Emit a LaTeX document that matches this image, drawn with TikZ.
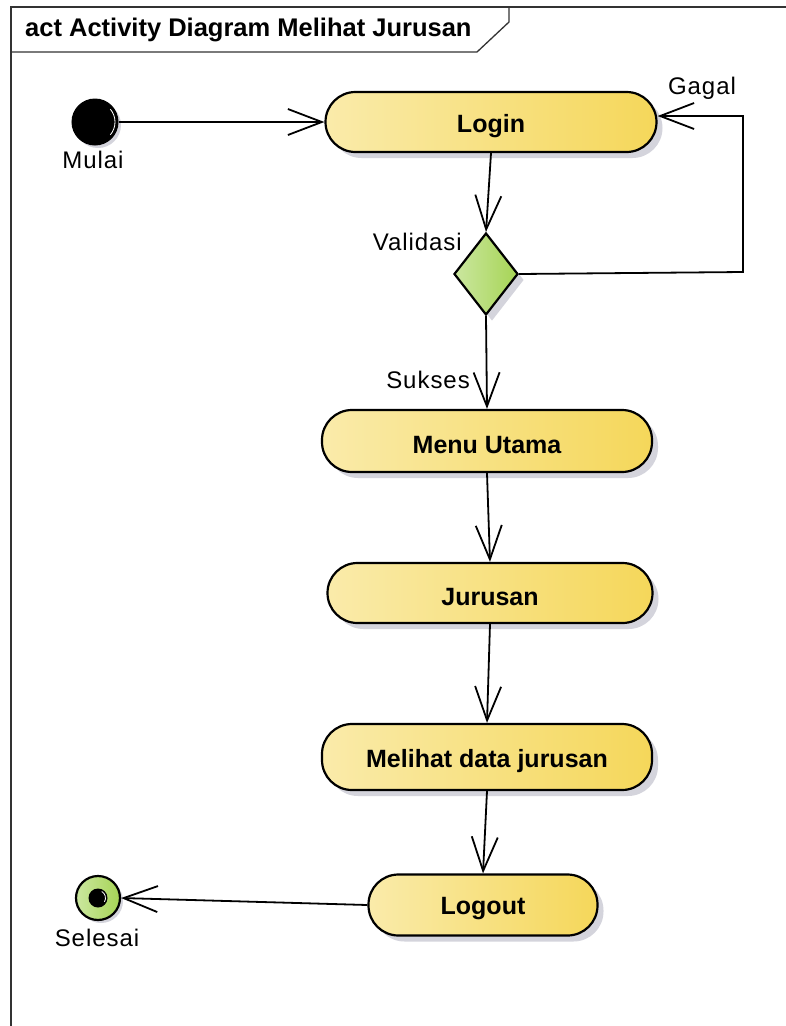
\documentclass[tikz,border=0pt]{standalone}
\usepackage{fontspec}
\setmainfont{Liberation Sans}
\usetikzlibrary{arrows.meta,shapes.geometric,shadows}
\definecolor{actL}{HTML}{FAEBAA}
\definecolor{actR}{HTML}{F5D75A}
\definecolor{decL}{HTML}{CBE7A0}
\definecolor{decR}{HTML}{A6D455}
\definecolor{shade}{HTML}{D4D4DC}
\newfontfamily\labelfont[LetterSpace=4]{Liberation Sans}
% activity names sit a little below the middle of their box
\newcommand{\acttext}[1]{\raisebox{-4pt}[\height][\depth]{#1}}
\tikzset{
  activity/.style={rectangle, draw=black, line width=2.2pt, rounded corners=30pt,
    left color=actL, right color=actR,
    general shadow={fill=shade, shadow xshift=6pt, shadow yshift=-6pt},
    font=\fontsize{25}{29}\selectfont\bfseries, inner sep=0pt},
  decision/.style={diamond, draw=black, line width=2.2pt, inner sep=0pt,
    left color=decL, right color=decR, minimum width=64pt, minimum height=82pt,
    general shadow={fill=shade, shadow xshift=6pt, shadow yshift=-6pt}},
  flow/.style={line width=1.8pt, -{Straight Barb[length=34pt,width=26pt,line width=1.8pt]}},
  lbl/.style={font=\labelfont\fontsize{24}{28}\selectfont, inner sep=0pt},
  frameline/.style={line width=1.3pt, draw=black!80}
}
\begin{document}
\begin{tikzpicture}[x=1pt,y=-1pt]
\useasboundingbox (0,0) rectangle (786,1026);
\fill[white] (0,0) rectangle (786,1026);

% diagram frame and its name tab
\draw[frameline] (11,1030) -- (11,7) -- (790,7);
\draw[frameline] (11,52) -- (477,52) -- (509,22) -- (509,7);
\node[anchor=west, inner sep=0pt, font=\fontsize{25.5}{29}\selectfont\bfseries] (title) at (25,30)
  {act Activity Diagram Melihat Jurusan};

% start and end
\node[circle, fill=black, draw=black, line width=1pt, minimum size=46pt, inner sep=0pt,
  general shadow={fill=shade, shadow xshift=3pt, shadow yshift=-3pt}] (start) at (95,122) {};
\draw[white, line width=0.8pt] (start.center) ++(-40:20pt) arc (-40:40:20pt);
\node[lbl] (mulai) at (93,160) {Mulai};

\node[circle, draw=black, line width=2.2pt, left color=decL, right color=decR,
  minimum size=44pt, inner sep=0pt,
  general shadow={fill=shade, shadow xshift=3pt, shadow yshift=-3pt}] (final) at (98,898) {};
\fill[black] (final.center) circle (9.5pt);
\draw[white, line width=0.8pt] (final.center) ++(-30:7.5pt) arc (-30:60:7.5pt);
\node[lbl] (selesai) at (97,938) {Selesai};

% activities
\node[activity, minimum width=331pt, minimum height=60pt] (login) at (491,122) {\acttext{Login}};
\node[decision] (valid) at (486,274) {};
\node[lbl, anchor=east] (lvalid) at (462,242) {Validasi};
\node[activity, minimum width=330pt, minimum height=62pt] (menu) at (487,441) {\acttext{Menu Utama}};
\node[activity, minimum width=325pt, minimum height=60pt] (jurusan) at (490,593) {\acttext{Jurusan}};
\node[activity, minimum width=330pt, minimum height=66pt] (lihat) at (487,757) {\acttext{Melihat data jurusan}};
\node[activity, minimum width=229pt, minimum height=61pt] (logout) at (483,905) {\acttext{Logout}};

% flows
\draw[flow] (start) -- (login);
\draw[flow] (login.south) -- (valid.north);
\coordinate (gA) at (743,272);
\coordinate (gB) at (743,116);
\draw[flow] (valid.east) -- (gA) -- (gB) -- (gB -| login.east);
\node[lbl] (gagal) at (702,88) {Gagal};
\draw[flow] (valid.south) -- (menu.north);
\node[lbl, anchor=east] (sukses) at (470,380) {Sukses};
\draw[flow] (menu.south) -- (jurusan.north);
\draw[flow] (jurusan.south) -- (lihat.north);
\draw[flow] (lihat.south) -- (logout.north);
\draw[flow] (logout.west) -- (final.east);
\end{tikzpicture}
\end{document}
